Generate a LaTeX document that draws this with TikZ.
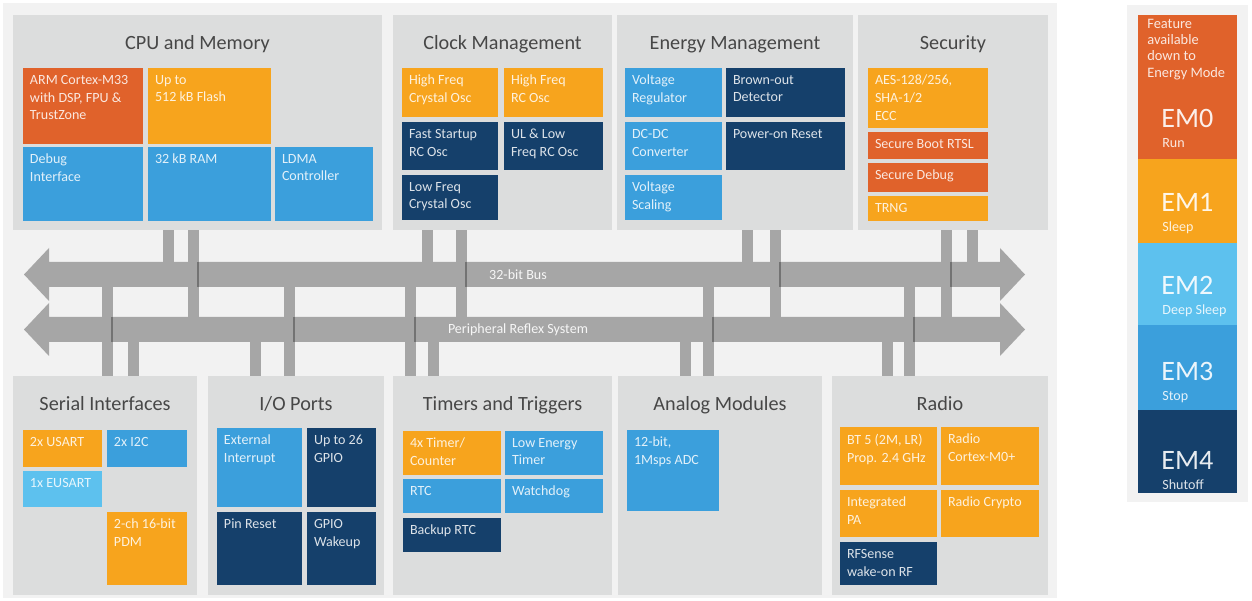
\documentclass[tikz,border=0pt]{standalone}
\usepackage{fontspec}
\setmainfont{Carlito}
\usetikzlibrary{fit}
\definecolor{emrun}{HTML}{E0622B}
\definecolor{emsleep}{HTML}{F7A41D}
\definecolor{emdeep}{HTML}{5DC1EE}
\definecolor{emstop}{HTML}{3B9FDC}
\definecolor{emoff}{HTML}{15406B}
\definecolor{panelgrey}{HTML}{DCDDDD}
\definecolor{pagegrey}{HTML}{F2F2F2}
\definecolor{busgrey}{HTML}{A6A6A6}
\definecolor{titlegrey}{HTML}{474747}

\begin{document}
\begin{tikzpicture}[x=0.02cm,y=-0.02cm,
  panel/.style={fill=panelgrey,inner sep=0pt},
  ptitle/.style={anchor=base,yshift=-0.7cm,inner sep=0pt,text=titlegrey,font=\fontsize{11.5}{14}\selectfont},
  unit/.style={fill=#1,inner sep=0pt},
  utext/.style={anchor=north west,align=left,inner xsep=0.14cm,inner ysep=0.14cm,text=white,text opacity=.85,font=\fontsize{8}{10.2}\selectfont},
  tap/.style={fill=busgrey},
  seam/.style={draw=black!55,line width=0.6pt},
  buslabel/.style={inner sep=0pt,text=white,text opacity=.9,font=\fontsize{8}{9}\selectfont},
  legnote/.style={anchor=north west,align=left,inner sep=0pt,text=white,text opacity=.85,font=\fontsize{8.2}{9.2}\selectfont},
  legbig/.style={anchor=base west,inner sep=0pt,text=white,text opacity=.9,font=\fontsize{16}{18}\selectfont},
  legsub/.style={anchor=base west,inner sep=0pt,text=white,text opacity=.85,font=\fontsize{8}{9}\selectfont}]
\useasboundingbox[fill=white] (0,0) rectangle (1252,601);
\fill[pagegrey] (3,3) rectangle (1057,598);
\fill[pagegrey] (1127,5) rectangle (1248,502);

% top row
\node[panel,fit={(13,15)(382,230)},label={[ptitle]north:CPU and Memory}] (cpu) {};
\node[panel,fit={(393,15)(612,230)},label={[ptitle]north:Clock Management}] (clk) {};
\node[panel,fit={(617,15)(853,230)},label={[ptitle]north:Energy Management}] (emu) {};
\node[panel,fit={(858,15)(1048,230)},label={[ptitle]north:Security}] (sec) {};

\node[unit=emrun,fit={(23,68)(143,144)},label={[utext]north west:{ARM Cortex-M33\\with DSP, FPU \&\\TrustZone}}] (arm) {};
\node[unit=emsleep,fit={(148,68)(271,144)},label={[utext]north west:{Up to\\512 kB Flash}}] (flash) {};
\node[unit=emstop,fit={(23,147)(143,221)},label={[utext]north west:{Debug\\Interface}}] (dbg) {};
\node[unit=emstop,fit={(148,147)(271,221)},label={[utext]north west:{32 kB RAM}}] (ram) {};
\node[unit=emstop,fit={(275,147)(373,221)},label={[utext]north west:{LDMA\\Controller}}] (ldma) {};

\node[unit=emsleep,fit={(402,68)(498,117)},label={[utext]north west:{High Freq\\Crystal Osc}}] (hfxo) {};
\node[unit=emsleep,fit={(504,68)(603,117)},label={[utext]north west:{High Freq\\RC Osc}}] (hfrco) {};
\node[unit=emoff,fit={(402,122)(498,170)},label={[utext]north west:{Fast Startup\\RC Osc}}] (fsrco) {};
\node[unit=emoff,fit={(504,122)(603,170)},label={[utext]north west:{UL \& Low\\Freq RC Osc}}] (ulfrco) {};
\node[unit=emoff,fit={(402,175)(498,220)},label={[utext]north west:{Low Freq\\Crystal Osc}}] (lfxo) {};

\node[unit=emstop,fit={(625,68)(722,117)},label={[utext]north west:{Voltage\\Regulator}}] (vreg) {};
\node[unit=emoff,fit={(726,68)(845,117)},label={[utext]north west:{Brown-out\\Detector}}] (bod) {};
\node[unit=emstop,fit={(625,122)(722,170)},label={[utext]north west:{DC-DC\\Converter}}] (dcdc) {};
\node[unit=emoff,fit={(726,122)(845,170)},label={[utext]north west:{Power-on Reset}}] (por) {};
\node[unit=emstop,fit={(625,175)(722,220)},label={[utext]north west:{Voltage\\Scaling}}] (vscale) {};

\node[unit=emsleep,fit={(868,68)(988,128)},label={[utext]north west:{AES-128/256,\\SHA-1/2\\ECC}}] (crypto) {};
\node[unit=emrun,fit={(868,132)(988,159)},label={[utext]north west:{Secure Boot RTSL}}] (sboot) {};
\node[unit=emrun,fit={(868,163)(988,192)},label={[utext]north west:{Secure Debug}}] (sdbg) {};
\node[unit=emsleep,fit={(868,196)(988,221)},label={[utext]north west:{TRNG}}] (trng) {};

% bottom row
\node[panel,fit={(13,376)(197,595)},label={[ptitle]north:Serial Interfaces}] (ser) {};
\node[panel,fit={(208,376)(384,595)},label={[ptitle]north:I/O Ports}] (gpio) {};
\node[panel,fit={(393,376)(612,595)},label={[ptitle]north:Timers and Triggers}] (tmr) {};
\node[panel,fit={(618,376)(822,595)},label={[ptitle]north:Analog Modules}] (ana) {};
\node[panel,fit={(832,376)(1048,595)},label={[ptitle]north:Radio}] (rad) {};

\node[unit=emsleep,fit={(23,430)(102,467)},label={[utext]north west:{2x USART}}] (usart) {};
\node[unit=emstop,fit={(107,430)(187,467)},label={[utext]north west:{2x I2C}}] (i2c) {};
\node[unit=emdeep,fit={(23,471)(102,507)},label={[utext]north west:{1x EUSART}}] (eusart) {};
\node[unit=emsleep,fit={(107,512)(187,585)},label={[utext]north west:{2-ch 16-bit\\PDM}}] (pdm) {};

\node[unit=emstop,fit={(217,428)(302,507)},label={[utext]north west:{External\\Interrupt}}] (extint) {};
\node[unit=emoff,fit={(307,428)(376,507)},label={[utext]north west:{Up to 26\\GPIO}}] (pins) {};
\node[unit=emoff,fit={(217,512)(302,585)},label={[utext]north west:{Pin Reset}}] (pinrst) {};
\node[unit=emoff,fit={(307,512)(376,585)},label={[utext]north west:{GPIO\\Wakeup}}] (gpiowu) {};

\node[unit=emsleep,fit={(403,431)(501,475)},label={[utext]north west:{4x Timer/\\Counter}}] (timer) {};
\node[unit=emstop,fit={(505,431)(603,475)},label={[utext]north west:{Low Energy\\Timer}}] (letimer) {};
\node[unit=emstop,fit={(403,479)(501,513)},label={[utext]north west:{RTC}}] (rtc) {};
\node[unit=emstop,fit={(505,479)(603,513)},label={[utext]north west:{Watchdog}}] (wdog) {};
\node[unit=emoff,fit={(403,518)(501,552)},label={[utext]north west:{Backup RTC}}] (brtc) {};

\node[unit=emstop,fit={(627,430)(719,511)},label={[utext]north west:{12-bit,\\1Msps ADC}}] (adc) {};

\node[unit=emsleep,fit={(840,427)(937,485)},label={[utext]north west:{BT 5 (2M, LR)\\Prop. 2.4 GHz}}] (bt) {};
\node[unit=emsleep,fit={(941,427)(1039,485)},label={[utext]north west:{Radio\\Cortex-M0+}}] (rcm0) {};
\node[unit=emsleep,fit={(840,490)(937,537)},label={[utext]north west:{Integrated\\PA}}] (pa) {};
\node[unit=emsleep,fit={(941,490)(1039,537)},label={[utext]north west:{Radio Crypto}}] (rcrypto) {};
\node[unit=emoff,fit={(840,542)(937,585)},label={[utext]north west:{RFSense\\wake-on RF}}] (rfsense) {};

% buses and taps
\foreach \y in {274.5,329.5}
  \fill[busgrey] (24,\y) -- (49,{\y-26.5}) -- (49,{\y-12.5}) -- (1000,{\y-12.5}) -- (1000,{\y-26.5}) -- (1025,\y)
    -- (1000,{\y+26.5}) -- (1000,{\y+12.5}) -- (49,{\y+12.5}) -- (49,{\y+26.5}) -- cycle;
\foreach \x/\p/\e in {168/cpu/262,193/cpu/317,427/clk/262,461/clk/317,747/emu/262,775/emu/317,946/sec/317,972/sec/262}
  \fill[tap] ({\x-5.5},0 |- \p.south) rectangle ({\x+5.5},\e);
\foreach \x/\p/\e in {107/ser/287,133/ser/342,255/gpio/342,289/gpio/287,410/tmr/287,433/tmr/342,685/ana/342,708/ana/287,887/rad/342,909/rad/287}
  \fill[tap] ({\x-5.5},0 |- \p.north) rectangle ({\x+5.5},\e);
\foreach \x in {193,461,775,946} \draw[seam] ({\x+5},262) -- ({\x+5},287);
\foreach \x in {107,289,410,708,909} \draw[seam] ({\x+5},317) -- ({\x+5},342);
\node[buslabel] (bus) at (518,274.5) {32-bit Bus};
\node[buslabel] (prs) at (518,329.5) {Peripheral Reflex System};

% energy mode key
\foreach \n/\col/\a/\b in {0/emrun/15/159,1/emsleep/159/243,2/emdeep/243/325,3/emstop/325/410,4/emoff/410/493}
  \node[unit=\col,fit={(1138,\a)(1237,\b)}] (mode\n) {};
\node[legnote] (note) at (1147,19) {Feature\\available\\down to\\Energy Mode};
\foreach \n/\y/\s in {0/128/Run,1/212/Sleep,2/295/Deep Sleep,3/380/Stop,4/469/Shutoff} {
  \node[legbig] (em\n) at (1161,\y) {EM\n};
  \node[legsub] (em\n-sub) at (1162,{\y+20}) {\s};
}
\end{tikzpicture}
\end{document}
